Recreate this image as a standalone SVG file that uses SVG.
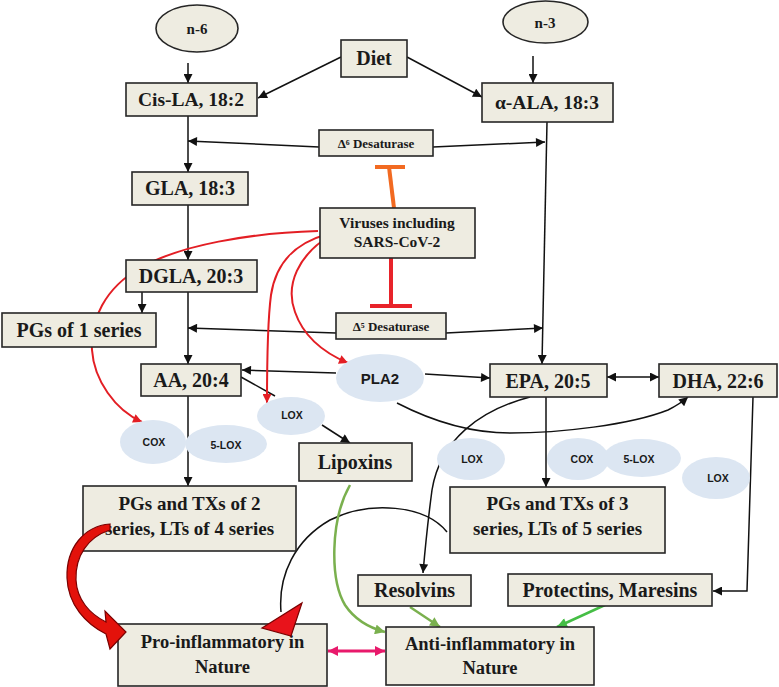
<svg xmlns="http://www.w3.org/2000/svg" width="779" height="687" viewBox="0 0 779 687">
<style>
.box{fill:#EEECE1;stroke:#262626;stroke-width:1.6}
.enz{fill:#DCE6F2}
.t{font-family:"Liberation Serif","DejaVu Serif",serif;font-weight:bold;fill:#1a1a1a;text-anchor:middle}
.s{font-family:"Liberation Sans","DejaVu Sans",sans-serif;font-weight:bold;fill:#1a1a1a;text-anchor:middle}
.k{fill:none;stroke:#111;stroke-width:1.5}
.r{fill:none;stroke:#E31E24;stroke-width:2}
.g1{fill:none;stroke:#7AB04E;stroke-width:2.5}
.g2{fill:none;stroke:#45BE45;stroke-width:2.5}
</style>
<defs>
<marker id="ab" viewBox="0 0 10 10" refX="10" refY="5" markerWidth="11" markerHeight="9" markerUnits="userSpaceOnUse" orient="auto-start-reverse"><path d="M0,0 L10,5 L0,10 z" fill="#111"/></marker>
<marker id="ar" viewBox="0 0 10 10" refX="10" refY="5" markerWidth="11" markerHeight="9" markerUnits="userSpaceOnUse" orient="auto"><path d="M0,0 L10,5 L0,10 z" fill="#E31E24"/></marker>
<marker id="ap" viewBox="0 0 10 10" refX="10" refY="5" markerWidth="11" markerHeight="10" markerUnits="userSpaceOnUse" orient="auto-start-reverse"><path d="M0,0 L10,5 L0,10 z" fill="#E8196B"/></marker>
<marker id="ag1" viewBox="0 0 10 10" refX="10" refY="5" markerWidth="11" markerHeight="10" markerUnits="userSpaceOnUse" orient="auto"><path d="M0,0 L10,5 L0,10 z" fill="#7AB04E"/></marker>
<marker id="ag2" viewBox="0 0 10 10" refX="10" refY="5" markerWidth="11" markerHeight="10" markerUnits="userSpaceOnUse" orient="auto"><path d="M0,0 L10,5 L0,10 z" fill="#45BE45"/></marker>
</defs>
<rect width="779" height="687" fill="#fff"/>
<g id="connectors">
<path class="k" d="M188 63 L188 83" marker-end="url(#ab)"/>
<path class="k" d="M533 56 L533 83" marker-end="url(#ab)"/>
<path class="k" d="M341 57 L258 98" marker-end="url(#ab)"/>
<path class="k" d="M407 57 L482 97" marker-end="url(#ab)"/>
<path class="k" d="M188 116 L188 172" marker-end="url(#ab)"/>
<path class="k" d="M319 147 L188 141" marker-end="url(#ab)"/>
<path class="k" d="M433 147 L545 142" marker-end="url(#ab)"/>
<path class="k" d="M547 122 L542 364" marker-end="url(#ab)"/>
<path class="k" d="M188 205 L188 260" marker-end="url(#ab)"/>
<path class="k" d="M142 292 L142 313" marker-end="url(#ab)"/>
<path class="k" d="M188 292 L188 364" marker-end="url(#ab)"/>
<path class="k" d="M336 333 L188 328" marker-end="url(#ab)"/>
<path class="k" d="M446 333 L543 328" marker-end="url(#ab)"/>
<path class="k" d="M336 373 L242 370" marker-end="url(#ab)"/>
<path class="k" d="M425 374 L490 378" marker-end="url(#ab)"/>
<path class="k" d="M607 377 L659 377" marker-start="url(#ab)" marker-end="url(#ab)"/>
<path class="k" d="M241 377 L275 396"/>
<path class="k" d="M322 425 L350 443" marker-end="url(#ab)"/>
<path class="k" d="M188 396 L188 486" marker-end="url(#ab)"/>
<path class="k" d="M546 397 L546 487" marker-end="url(#ab)"/>
<path class="k" d="M397 403 C430 420 470 433 510 433 C560 433 630 425 668 410 Q680 404 688 397" marker-end="url(#ab)"/>
<path class="k" d="M530 397 C480 410 440 440 432 490 C428 520 425 550 423 573" marker-end="url(#ab)"/>
<path class="k" d="M753 397 L747 591 L713 591" marker-end="url(#ab)"/>
<path class="k" stroke-width="2" d="M447 532 C425 505 370 500 330 520 C295 540 278 575 281 612"/>
<path class="r" d="M318 231 C250 233 180 245 140 268 C105 288 90 320 92 350 C94 380 115 410 142 422" marker-end="url(#ar)"/>
<path class="r" d="M328 234 C295 243 276 262 271 295 C267 325 267 365 267 403" marker-end="url(#ar)"/>
<path class="r" d="M331 235 C298 255 285 285 295 312 C303 335 322 352 348 363" marker-end="url(#ar)"/>
<path d="M389 167 L394 208" stroke="#F26A21" stroke-width="4" fill="none"/>
<path d="M375 167 L405 167" stroke="#F26A21" stroke-width="4" fill="none"/>
<path d="M391 258 L391 306" stroke="#E8232A" stroke-width="4" fill="none"/>
<path d="M370 306 L412 306" stroke="#E8232A" stroke-width="4" fill="none"/>
<path class="g1" d="M350 485 C330 520 330 580 345 605 C355 620 370 628 385 632" marker-end="url(#ag1)"/>
<path class="g1" d="M410 607 L440 627" marker-end="url(#ag1)"/>
<path class="g2" d="M605 605 L557 627" marker-end="url(#ag2)"/>
<path d="M328 651 L385 651" stroke="#E8196B" stroke-width="3" fill="none" marker-start="url(#ap)" marker-end="url(#ap)"/>
</g>
<g id="n6"><ellipse class="box" cx="197" cy="28.5" rx="41" ry="23.5"/><text class="t" x="197" y="34" font-size="15">n-6</text></g>
<g id="n3"><ellipse class="box" cx="545.5" cy="22" rx="42.5" ry="21"/><text class="t" x="545" y="28" font-size="15">n-3</text></g>
<g id="diet"><rect class="box" x="341" y="40" width="66" height="37"/><text class="t" x="374" y="65" font-size="20">Diet</text></g>
<g id="cisla"><rect class="box" x="126" y="83" width="131" height="33"/><text class="t" x="191" y="106" font-size="19.5">Cis-LA, 18:2</text></g>
<g id="ala"><rect class="box" x="482" y="83" width="131" height="39"/><text class="t" x="547" y="109" font-size="19.5">α-ALA, 18:3</text></g>
<g id="d6"><rect class="box" x="319" y="130" width="114" height="26"/><text class="t" x="376" y="148" font-size="13">Δ⁶ Desaturase</text></g>
<g id="gla"><rect class="box" x="132" y="172" width="116" height="33"/><text class="t" x="190" y="195" font-size="20">GLA, 18:3</text></g>
<g id="virus"><rect class="box" x="320" y="208" width="155" height="50"/><text class="t" x="397" y="228" font-size="15.5">Viruses including</text><text class="t" x="397" y="247" font-size="15.5">SARS-CoV-2</text></g>
<g id="dgla"><rect class="box" x="126" y="260" width="131" height="32"/><text class="t" x="191" y="283" font-size="20">DGLA, 20:3</text></g>
<g id="pg1"><rect class="box" x="2" y="313" width="154" height="34"/><text class="t" x="79" y="337" font-size="20">PGs of 1 series</text></g>
<g id="d5"><rect class="box" x="336" y="313" width="110" height="26"/><text class="t" x="391" y="331" font-size="13">Δ⁵ Desaturase</text></g>
<g id="aa"><rect class="box" x="141" y="364" width="100" height="32"/><text class="t" x="191" y="387" font-size="20">AA, 20:4</text></g>
<g id="pla2"><ellipse class="enz" cx="380" cy="378" rx="44" ry="24"/><text class="s" x="380" y="384" font-size="15">PLA2</text></g>
<g id="epa"><rect class="box" x="490" y="364" width="117" height="33"/><text class="t" x="548" y="388" font-size="20">EPA, 20:5</text></g>
<g id="dha"><rect class="box" x="659" y="364" width="118" height="33"/><text class="t" x="718" y="388" font-size="20">DHA, 22:6</text></g>
<g id="cox1"><ellipse class="enz" cx="153" cy="442" rx="33" ry="22"/><text class="s" x="154" y="446" font-size="10.5">COX</text></g>
<g id="lox5a"><ellipse class="enz" cx="226" cy="444" rx="41" ry="19"/><text class="s" x="226" y="449" font-size="10.5">5-LOX</text></g>
<g id="lox1"><ellipse class="enz" cx="291" cy="416" rx="34" ry="19"/><text class="s" x="292" y="419" font-size="10.5">LOX</text></g>
<g id="lox2"><ellipse class="enz" cx="471" cy="459" rx="34" ry="21"/><text class="s" x="472" y="463" font-size="10.5">LOX</text></g>
<g id="cox2"><ellipse class="enz" cx="578" cy="459" rx="31" ry="21"/><text class="s" x="582" y="463" font-size="10.5">COX</text></g>
<g id="lox5b"><ellipse class="enz" cx="642" cy="458" rx="39" ry="19"/><text class="s" x="639" y="463" font-size="10.5">5-LOX</text></g>
<g id="lox3"><ellipse class="enz" cx="716" cy="478" rx="34" ry="21"/><text class="s" x="718" y="482" font-size="10.5">LOX</text></g>
<g id="lipoxins"><rect class="box" x="299" y="443" width="113" height="38"/><text class="t" x="355" y="469" font-size="20">Lipoxins</text></g>
<g id="pg2"><rect class="box" x="83" y="486" width="213" height="65"/><text class="t" x="189.5" y="510" font-size="19">PGs and TXs of 2</text><text class="t" x="189.5" y="535" font-size="19">series, LTs of 4 series</text></g>
<g id="pg3"><rect class="box" x="450" y="487" width="215" height="66"/><text class="t" x="557.5" y="510" font-size="19">PGs and TXs of 3</text><text class="t" x="557.5" y="535" font-size="19">series, LTs of 5 series</text></g>
<g id="resolvins"><rect class="box" x="358" y="575" width="113" height="31"/><text class="t" x="414.5" y="597" font-size="20">Resolvins</text></g>
<g id="protectins"><rect class="box" x="508" y="574" width="204" height="32"/><text class="t" x="610" y="597" font-size="20">Protectins, Maresins</text></g>
<g id="pro"><rect class="box" x="118" y="624" width="209" height="62"/><text class="t" x="222.5" y="648" font-size="18.5">Pro-inflammatory in</text><text class="t" x="222.5" y="673" font-size="18.5">Nature</text></g>
<g id="anti"><rect class="box" x="386" y="627" width="208" height="58"/><text class="t" x="490" y="650" font-size="18.5">Anti-inflammatory in</text><text class="t" x="490" y="674" font-size="18.5">Nature</text></g>
<g id="connectors-overlay">
<path d="M110 524 C84 526 66 548 67 578 C68 605 86 624 106 634 L110 649 L126 632 L105 611 L106 622 C90 614 77 600 76 580 C75 556 88 537 110 530 Z" fill="#E3120B" stroke="#7A0000" stroke-width="1.2"/>
<polygon points="262,628 302,603 291,636" fill="#E8131B" stroke="#7A0000" stroke-width="1.2"/>
</g>
</svg>
